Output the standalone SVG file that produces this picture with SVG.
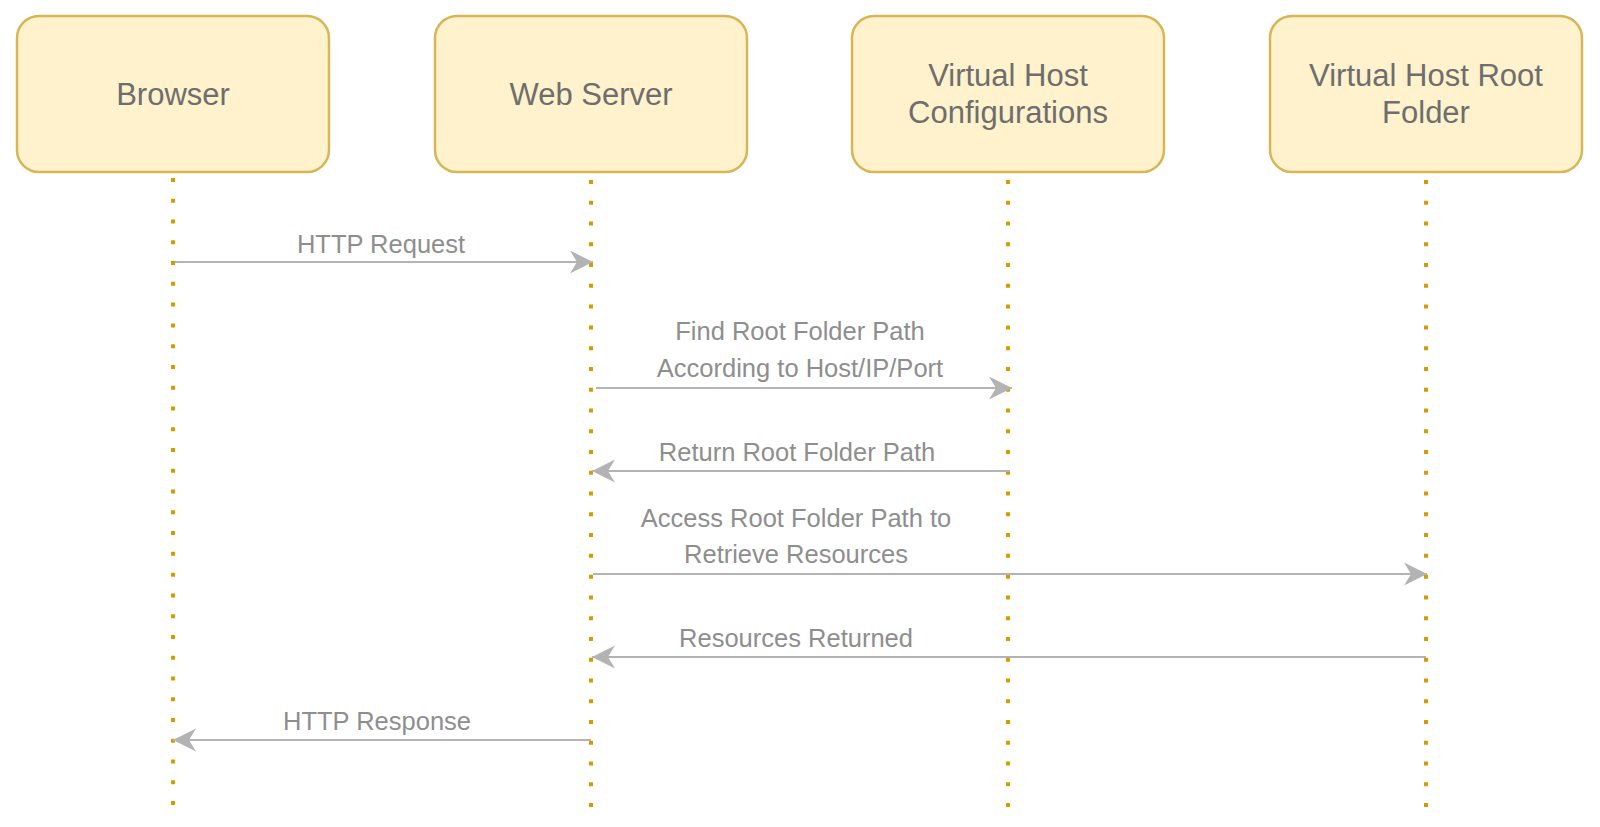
<svg xmlns="http://www.w3.org/2000/svg" width="1600" height="827" viewBox="0 0 1600 827">
  <style>
    .box { fill: #FFF2CC; stroke: #D6B656; stroke-width: 2.5; }
    .life { stroke: #D79B00; stroke-width: 4; stroke-dasharray: 4 16.77; fill: none; }
    .nodeText { font-family: "Liberation Sans", Arial, sans-serif; font-size: 31px; fill: #6E6E6E; text-anchor: middle; }
    .msg { stroke: #B3B3B3; stroke-width: 2; fill: none; marker-end: url(#arrow); }
    .msgText { font-family: "Liberation Sans", Arial, sans-serif; font-size: 25.5px; fill: #8E8E8E; text-anchor: middle; }
  </style>
  <defs>
    <marker id="arrow" markerUnits="userSpaceOnUse" markerWidth="24" markerHeight="24" refX="23" refY="11.5" orient="auto">
      <path d="M0,0 L23,11.5 L0,23 L7,11.5 Z" fill="#B3B3B3"/>
    </marker>
  </defs>
  <rect width="1600" height="827" fill="#FFFFFF"/>

  <g id="browser">
    <rect class="box" x="17" y="16" width="312" height="156" rx="22"/>
    <text class="nodeText" x="173" y="105">Browser</text>
    <line class="life" x1="173" y1="178" x2="173" y2="810"/>
  </g>
  <g id="web-server">
    <rect class="box" x="435" y="16" width="312" height="156" rx="22"/>
    <text class="nodeText" x="591" y="105">Web Server</text>
    <line class="life" x1="591" y1="180" x2="591" y2="810"/>
  </g>
  <g id="vhost-config">
    <rect class="box" x="852" y="16" width="312" height="156" rx="22"/>
    <text class="nodeText" x="1008" y="86">Virtual Host</text>
    <text class="nodeText" x="1008" y="123">Configurations</text>
    <line class="life" x1="1008" y1="180" x2="1008" y2="810"/>
  </g>
  <g id="vhost-root">
    <rect class="box" x="1270" y="16" width="312" height="156" rx="22"/>
    <text class="nodeText" x="1426" y="86">Virtual Host Root</text>
    <text class="nodeText" x="1426" y="123">Folder</text>
    <line class="life" x1="1426" y1="180" x2="1426" y2="810"/>
  </g>

  <g id="connectors">
    <line class="msg" x1="175" y1="262" x2="593" y2="262"/>
    <text class="msgText" x="381" y="253">HTTP Request</text>

    <line class="msg" x1="596" y1="388" x2="1012" y2="388"/>
    <text class="msgText" x="800" y="340">Find Root Folder Path</text>
    <text class="msgText" x="800" y="377">According to Host/IP/Port</text>

    <line class="msg" x1="1010" y1="471" x2="592" y2="471"/>
    <text class="msgText" x="797" y="461">Return Root Folder Path</text>

    <line class="msg" x1="593" y1="574" x2="1427" y2="574"/>
    <text class="msgText" x="796" y="527">Access Root Folder Path to</text>
    <text class="msgText" x="796" y="563">Retrieve Resources</text>

    <line class="msg" x1="1426" y1="657" x2="592" y2="657"/>
    <text class="msgText" x="796" y="647">Resources Returned</text>

    <line class="msg" x1="591" y1="740" x2="173" y2="740"/>
    <text class="msgText" x="377" y="730">HTTP Response</text>
  </g>
</svg>
